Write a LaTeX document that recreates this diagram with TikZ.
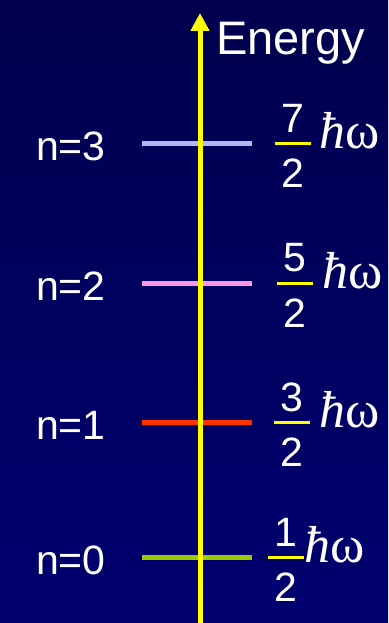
\documentclass[tikz,border=0pt]{standalone}
\usepackage{fontspec}
\setmainfont{Liberation Sans}
\newfontfamily\hwfont{Liberation Serif}
\usetikzlibrary{arrows.meta}
\definecolor{bgtop}{RGB}{0,0,78}
\definecolor{bgbot}{RGB}{0,0,112}
\definecolor{axisyel}{RGB}{255,255,0}
\definecolor{lvlthree}{RGB}{180,182,240}
\definecolor{lvltwo}{RGB}{255,150,232}
\definecolor{lvlone}{RGB}{255,51,0}
\definecolor{lvlzero}{RGB}{153,204,0}
\begin{document}
\begin{tikzpicture}[x=1pt,y=-1pt,
  level/.style={line width=5pt},
  fbar/.style={draw=axisyel,line width=3pt},
  nlab/.style={text=white,inner sep=0pt,font=\fontsize{41}{41}\selectfont},
  frac/.style={text=white,inner sep=0pt,font=\fontsize{41}{41}\selectfont},
  hw/.style={text=white,inner sep=0pt,font=\hwfont\fontsize{52}{52}\selectfont}]
\shade[top color=bgtop,bottom color=bgbot] (0,0) rectangle (388,623);
\useasboundingbox (0,0) rectangle (388,623);
% energy levels
\foreach \lv/\y/\c/\k/\fx/\hx in {3/143/lvlthree/7/293/319, 2/283/lvltwo/5/295/322,
    1/422/lvlone/3/292/319, 0/557/lvlzero/1/286/304}
  {\coordinate (L\lv) at (142,\y);
   \coordinate (R\lv) at (252,\y);
   \draw[level,draw=\c] (L\lv) -- (R\lv);
   \node[nlab,anchor=west] (n\lv) at (36,\y+3) {n=\lv};
   \node[frac] (num\lv) at (\fx,\y-25) {\k};
   \node[frac] (den\lv) at (\fx,\y+30) {2};
   \coordinate (bl\lv) at (\fx-18,\y);
   \coordinate (br\lv) at (\fx+18,\y);
   \draw[fbar] (bl\lv) -- (br\lv);
   \node[hw,anchor=base west] (hw\lv) at (\hx,\y+5) {{\itshape ħ}ω};}
% axis
\coordinate (ebot) at (200,623);
\coordinate (etop) at (200,13);
\draw[axisyel,line width=5pt,-{Triangle[length=18pt,width=18pt]}] (ebot) -- (etop);
\node[nlab,anchor=base west,font=\fontsize{47}{47}\selectfont] (energy) at (216,55) {Energy};
\end{tikzpicture}
\end{document}
